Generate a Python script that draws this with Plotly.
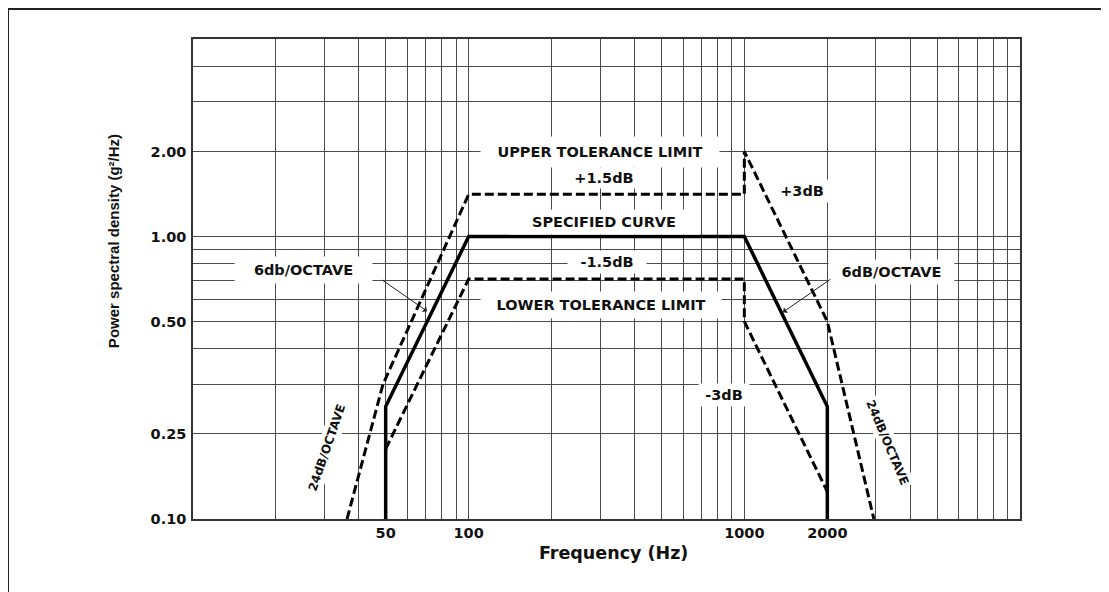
import plotly.graph_objects as go

# ---------------- data ----------------
spec_freq = [50, 50, 100, 1000, 2000, 2000]
spec_psd = [0.10, 0.25, 1.00, 1.00, 0.25, 0.10]

upper_freq = [36.2, 48.9, 100, 1000, 1000, 2000, 2950]
upper_psd = [0.10, 0.30, 1.41, 1.41, 2.00, 0.50, 0.10]

lower_freq = [50, 100, 1000, 1000, 2000]
lower_psd = [0.177, 0.707, 0.707, 0.50, 0.125]

x_grid = [10, 20, 30, 40, 50, 60, 70, 80, 90,
          100, 200, 300, 400, 500, 600, 700, 800, 900,
          1000, 2000, 3000, 4000, 5000, 6000, 7000, 8000, 9000, 10000]
x_labels = {50: "50", 100: "100", 1000: "1000", 2000: "2000"}

y_grid = [0.1, 0.2, 0.3, 0.4, 0.5, 0.6, 0.7, 0.8, 0.9, 1, 2, 3, 4, 5]
y_labels = {0.1: "0.10", 0.2: "0.25", 0.5: "0.50", 1: "1.00", 2: "2.00"}

# ---------------- layout geometry ----------------
WIDTH, HEIGHT = 1109, 592
OFF = 8  # page body margin
ML, MT = 185, 31
PW, PH = 827, 479.7
MR = WIDTH - ML - PW
MB = HEIGHT - MT - PH


def px(x, y):
    """position given in page pixels -> paper coords"""
    x -= OFF
    y -= OFF
    return dict(x=(x - ML) / PW, y=(HEIGHT - MB - y) / PH, xref="paper", yref="paper")


FONT = "DejaVu Sans"
GRID = "#4a4a4a"

fig = go.Figure()

fig.add_trace(go.Scatter(x=upper_freq, y=upper_psd, mode="lines",
                         line=dict(color="black", width=3, dash="9px,4px"),
                         hoverinfo="skip"))
fig.add_trace(go.Scatter(x=lower_freq, y=lower_psd, mode="lines",
                         line=dict(color="black", width=3, dash="9px,4px"),
                         hoverinfo="skip"))
fig.add_trace(go.Scatter(x=spec_freq, y=spec_psd, mode="lines",
                         line=dict(color="black", width=3.5),
                         hoverinfo="skip"))

annotations = []


def label(text, x, y, w, h, size=14.5, angle=0):
    a = px(x, y)
    a.update(text=text, showarrow=False, bgcolor="white", width=w, height=h,
             borderpad=0, textangle=angle, xanchor="center", yanchor="middle",
             font=dict(family=FONT, size=size, color="#111", weight="bold"))
    annotations.append(a)


label("UPPER TOLERANCE LIMIT", 600, 152, 238, 30)
label("+1.5dB", 604, 178, 90, 20)
label("SPECIFIED CURVE", 604, 222, 190, 24)
label("-1.5dB", 607, 262, 78, 22)
label("LOWER TOLERANCE LIMIT", 601, 305, 240, 26)
label("+3dB", 802, 191, 60, 22)
label("6db/OCTAVE", 303, 270, 137, 26)
label("6dB/OCTAVE", 891, 272, 125, 24)
label("-3dB", 724, 395, 50, 22)
label("24dB/OCTAVE", 327, 448, 95, 18, size=12, angle=-71)
label("24dB/OCTAVE", 887, 442, 95, 18, size=12, angle=67)


def arrow(tipx, tipy, tailx, taily):
    a = px(tipx, tipy)
    a.update(text="", showarrow=True, arrowhead=1, arrowsize=1.2, arrowwidth=1,
             arrowcolor="#222", ax=tailx - tipx, ay=taily - tipy,
             axref="pixel", ayref="pixel")
    annotations.append(a)


arrow(427, 311, 381, 279)
arrow(783, 312, 832, 278)

# axis titles
t = px(613, 553)
t.update(text="Frequency (Hz)", showarrow=False, xanchor="center", yanchor="middle",
         font=dict(family=FONT, size=17.5, color="#111", weight="bold"))
annotations.append(t)
t = px(113, 241)
t.update(text="Power spectral density (g²/Hz)", showarrow=False, textangle=-90,
         xanchor="center", yanchor="middle",
         font=dict(family="Liberation Sans", size=15, color="#111", weight="bold"))
annotations.append(t)

fig.update_layout(
    width=WIDTH, height=HEIGHT,
    margin=dict(l=ML, r=MR, t=MT, b=MB),
    paper_bgcolor="white", plot_bgcolor="white",
    showlegend=False,
    annotations=annotations,
    shapes=[dict(type="rect", xref="paper", yref="paper",
                 x0=(0 - ML) / PW, x1=1.5,
                 y0=-0.5, y1=(HEIGHT - MB - 1) / PH,
                 line=dict(color="#222", width=2), layer="below")],
)

fig.update_xaxes(
    type="log", range=[1, 4],
    tickmode="array", tickvals=x_grid,
    ticktext=[x_labels.get(v, "") for v in x_grid],
    showgrid=True, gridcolor=GRID, gridwidth=1,
    showline=True, linecolor="#333", linewidth=1.5, mirror=True,
    ticks="", ticklabelstandoff=0,
    tickfont=dict(family=FONT, size=14.5, color="#111", weight="bold"),
    zeroline=False,
)
fig.update_yaxes(
    type="log", range=[-1, 0.69897],
    tickmode="array", tickvals=y_grid,
    ticktext=[y_labels.get(v, "") for v in y_grid],
    showgrid=True, gridcolor=GRID, gridwidth=1,
    showline=True, linecolor="#333", linewidth=1.5, mirror=True,
    ticks="", ticklabelstandoff=2,
    tickfont=dict(family=FONT, size=14.5, color="#111", weight="bold"),
    zeroline=False,
)

fig.write_html("out.html")
